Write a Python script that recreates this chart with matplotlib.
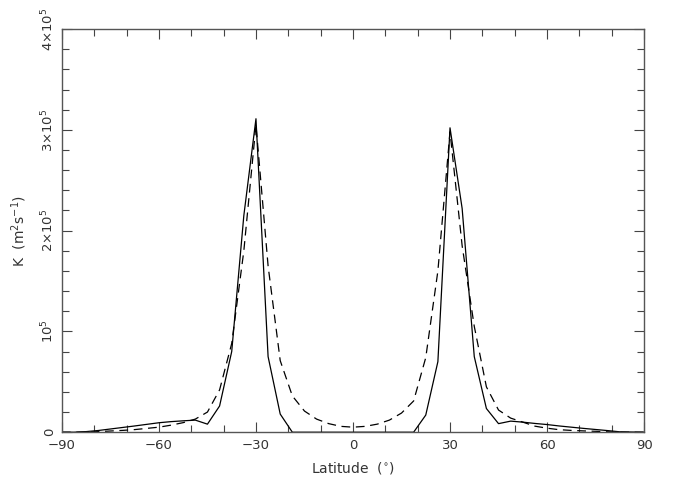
import matplotlib
matplotlib.use("Agg")
import matplotlib.pyplot as plt
from matplotlib.ticker import MultipleLocator, FixedLocator, FixedFormatter

# latitude grid (deg)
lat = [-90, -86.25, -82.5, -78.75, -75, -71.25, -67.5, -63.75, -60, -56.25,
       -52.5, -48.75, -45, -41.25, -37.5, -33.75, -30, -26.25, -22.5, -18.75,
       -15, -11.25, -7.5, -3.75, 0, 3.75, 7.5, 11.25, 15, 18.75,
       22.5, 26.25, 30, 33.75, 37.5, 41.25, 45, 48.75, 52.5, 56.25,
       60, 63.75, 67.5, 71.25, 75, 78.75, 82.5, 86.25, 90]

# solid curve, K (m2/s)
k_solid = [0, 0, 600, 1700, 3200, 4700, 6200, 7800, 9400, 10500,
           11300, 12000, 8000, 26000, 80000, 215000, 311000, 75000, 18000, 0,
           0, 0, 0, 0, 0, 0, 0, 0, 0, 0,
           17000, 70000, 302000, 222000, 75000, 23500, 8500, 11000, 10000, 8700,
           7600, 6200, 5000, 3800, 2700, 1600, 400, 200, 0]

# dashed curve, K (m2/s)
k_dashed = [0, 0, 200, 600, 1200, 1800, 2600, 3800, 5000, 7000,
            9500, 13000, 20000, 42000, 88000, 180000, 305000, 165000, 71000, 36000,
            21000, 13000, 8500, 5800, 5000, 5800, 8000, 12000, 19000, 31000,
            74000, 160000, 298000, 185000, 105000, 45000, 22000, 14000, 10000, 6000,
            4000, 2500, 1800, 1300, 900, 400, 100, 0, 0]

fig = plt.figure(figsize=(6.73, 4.84), dpi=100)
ax = fig.add_axes([0.092, 0.107, 0.865, 0.833])

ax.plot(lat, k_solid, color="black", lw=0.9)
ax.plot(lat, k_dashed, color="black", lw=0.9, dashes=(7, 4.5))

ax.set_xlim(-90, 90)
ax.set_ylim(0, 4e5)

ax.xaxis.set_minor_locator(MultipleLocator(10))
ax.set_xticks([-90, -60, -30, 0, 30, 60, 90])
ax.set_xticklabels(["\u221290", "\u221260", "\u221230", "0", "30", "60", "90"])

yt = [0, 1e5, 2e5, 3e5, 4e5]
ax.yaxis.set_major_locator(FixedLocator(yt))
ax.yaxis.set_major_formatter(FixedFormatter(
    ["0", r"$10^5$", r"$2{\times}10^5$", r"$3{\times}10^5$", r"$4{\times}10^5$"]))
ax.yaxis.set_minor_locator(MultipleLocator(2e4))
for lab in ax.get_yticklabels():
    lab.set_rotation(90)
    lab.set_va("center")

ax.tick_params(which="both", direction="in", top=True, right=True,
               color="#444444", labelsize=9.5, labelcolor="#333333")
ax.tick_params(which="major", length=7, width=0.8)
ax.tick_params(which="minor", length=5, width=0.8)
ax.tick_params(axis="x", pad=5)
ax.tick_params(axis="y", pad=4)

for s in ax.spines.values():
    s.set_color("#555555")
    s.set_linewidth(1.0)

ax.set_xlabel(r"Latitude  ($^{\circ}$)", fontsize=10, color="#333333")
ax.set_ylabel(r"K  (m$^2$s$^{-1}$)", fontsize=10, color="#333333")
ax.xaxis.set_label_coords(0.5, -0.068)
ax.yaxis.set_label_coords(-0.056, 0.5)

fig.savefig("out.png", dpi=100)
